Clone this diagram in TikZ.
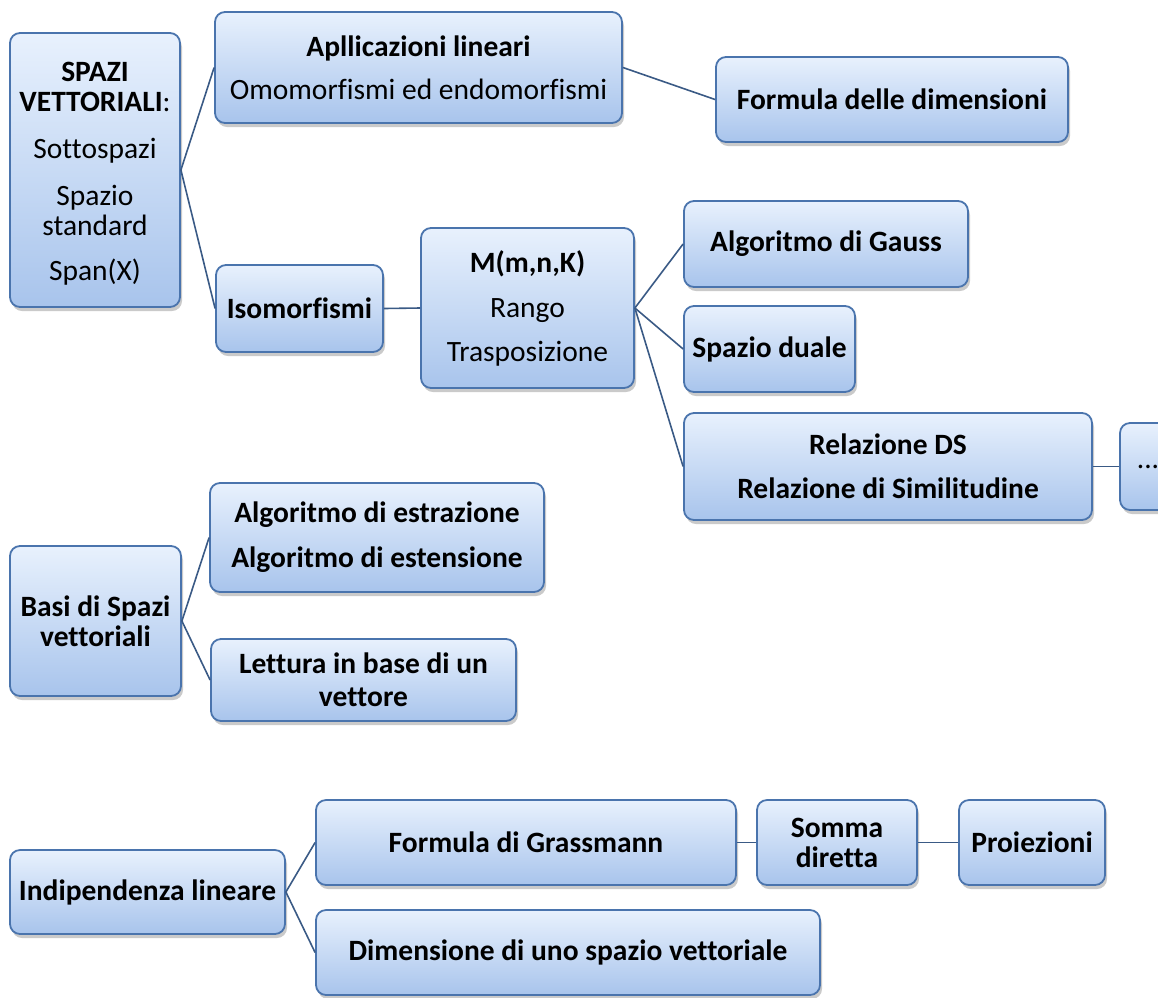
\documentclass[tikz,border=0pt]{standalone}
\usepackage{fontspec}
\setmainfont{Carlito}[Ligatures=NoCommon]
\usetikzlibrary{shadows}
\definecolor{boxborder}{HTML}{4A74AD}
\definecolor{boxtop}{HTML}{E8F1FD}
\definecolor{boxmid}{HTML}{D3E3FA}
\definecolor{boxbot}{HTML}{A8C4EC}
\definecolor{linkcol}{HTML}{3A5A85}
\tikzset{
  boxtext/.style={inner sep=0pt, align=center, font=\fontsize{29.5}{30}\selectfont},
  box/.style={boxtext, draw=boxborder, line width=1.8pt, rounded corners=10pt,
    top color=boxtop, middle color=boxmid, bottom color=boxbot,
    drop shadow={shadow xshift=2pt, shadow yshift=-4pt, opacity=0.35, fill=black!60}},
  link/.style={draw=linkcol, line width=1.6pt}
}
\newcommand{\bx}[6]{\node[box, minimum width=#4pt, minimum height=#5pt] (#1) at (#2,#3) {#6};}
\begin{document}
\begin{tikzpicture}[x=1pt,y=-1pt]
\useasboundingbox (0,0) rectangle (1158,997);
\bx{sv}{95}{170}{170}{274}{}
\node[boxtext] (svtext) at (95,174) {\textbf{SPAZI}\\\textbf{VETTORIALI}:\\[17pt]Sottospazi\\[17pt]Spazio\\standard\\[15pt]Span(X)};
\bx{apl}{418.5}{67.5}{407}{111}{\textbf{Apllicazioni lineari}\\[13pt]Omomorfismi ed endomorfismi}
\bx{fdim}{892}{99.5}{352}{85}{\textbf{Formula delle dimensioni}}
\bx{iso}{299.5}{308.5}{167}{87}{\textbf{Isomorfismi}}
\bx{mmn}{527.5}{308}{213}{160}{\textbf{M(m,n,K)}\\[15pt]Rango\\[14pt]Trasposizione}
\bx{gauss}{826}{244}{284}{86}{\textbf{Algoritmo di Gauss}}
\bx{duale}{769.5}{349}{171}{86}{\textbf{Spazio duale}}
\bx{rel}{888}{466.5}{408}{107}{\textbf{Relazione DS}\\[14pt]\textbf{Relazione di Similitudine}}
\bx{dots}{1148}{466.5}{56}{87}{...}
\bx{estr}{377}{537.5}{334}{109}{\textbf{Algoritmo di estrazione}\\[15pt]\textbf{Algoritmo di estensione}}
\bx{basi}{95.5}{621}{171}{150}{\textbf{Basi di Spazi}\\\textbf{vettoriali}}
\bx{lett}{363.5}{680}{305}{82}{\textbf{Lettura in base di un}\\[3pt]\textbf{vettore}}
\bx{indip}{147.5}{892}{275}{84}{\textbf{Indipendenza lineare}}
\bx{grass}{526}{842.5}{420}{85}{\textbf{Formula di Grassmann}}
\bx{somma}{837}{842.5}{160}{85}{\textbf{Somma}\\\textbf{diretta}}
\bx{proi}{1032}{842.5}{146}{85}{\textbf{Proiezioni}}
\bx{dimsp}{568}{952.5}{504}{85}{\textbf{Dimensione di uno spazio vettoriale}}
\draw[link] (sv.east) -- (apl.west);
\draw[link] (sv.east) -- (iso.west);
\draw[link] (apl.east) -- (fdim.west);
\draw[link] (iso.east) -- (mmn.west);
\draw[link] (mmn.east) -- (gauss.west);
\draw[link] (mmn.east) -- (duale.west);
\draw[link] (mmn.east) -- (rel.west);
\draw[link] (rel.east) -- (dots.west);
\draw[link] (basi.east) -- (estr.west);
\draw[link] (basi.east) -- (lett.west);
\draw[link] (indip.east) -- (grass.west);
\draw[link] (indip.east) -- (dimsp.west);
\draw[link] (grass.east) -- (somma.west);
\draw[link] (somma.east) -- (proi.west);
\end{tikzpicture}
\end{document}
